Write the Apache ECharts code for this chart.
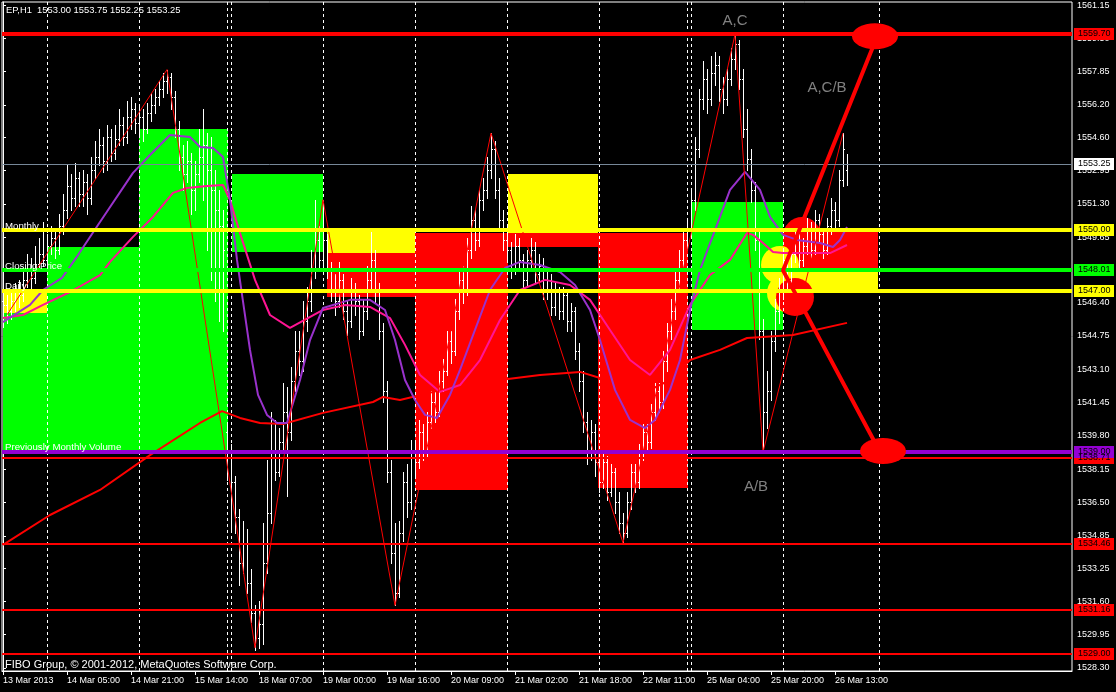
<!DOCTYPE html>
<html><head><meta charset="utf-8">
<script src="https://cdn.jsdelivr.net/npm/echarts@6/dist/echarts.min.js"></script>
<style>html,body{margin:0;padding:0;background:#000;}#c{width:1116px;height:692px;}</style>
</head><body><div id="c"></div>
<script>
// ---------- DATA ----------
const symbolTitle = 'EP,H1  1553.00 1553.75 1552.25 1553.25';
const copyright = 'FIBO Group, \u00A9 2001-2012, MetaQuotes Software Corp.';
const timeLabels = ['13 Mar 2013','14 Mar 05:00','14 Mar 21:00','15 Mar 14:00','18 Mar 07:00','19 Mar 00:00','19 Mar 16:00','20 Mar 09:00','21 Mar 02:00','21 Mar 18:00','22 Mar 11:00','25 Mar 04:00','25 Mar 20:00','26 Mar 13:00'];
const timeLabelBars = [0,16,32,48,64,80,96,112,128,144,160,176,192,208];
const priceTicks = [1528.30,1529.95,1531.60,1533.25,1534.85,1536.50,1538.15,1539.80,1541.45,1543.10,1544.75,1546.40,1548.00,1549.65,1551.30,1552.95,1554.60,1556.20,1557.85,1559.50,1561.15];

const opens = [
1546.5,1546.3,1546.0,1546.5,1547.0,1546.8,1547.5,1548.0,1547.6,1548.3,1548.8,
1548.5,1549.2,1549.6,1549.0,1550.2,1551.0,1552.2,1551.6,1552.6,1551.8,1552.4,1551.6,1553.0,1553.6,1554.2,1553.4,1554.6,1553.8,1554.5,1555.2,1554.6,1555.6,1556.0,
1555.3,1555.6,1555.0,1555.8,1556.2,1556.6,1557.0,1557.4,1557.6,1556.6,1555.0,1553.6,1552.8,1553.4,1552.0,1552.8,1553.6,1554.2,1553.0,1552.0,1551.0,1550.2,
1540.0,1539.0,1537.5,1535.8,1533.5,1534.5,1532.5,1531.0,1529.8,1530.5,1533.5,1536.0,1539.0,1538.0,1539.5,1541.0,1540.0,1542.5,1544.0,1543.5,1545.5,1546.5,1548.0,1549.5,
1548.5,1549.5,1548.0,1547.0,1546.5,1547.5,1546.0,1545.5,1547.0,1546.5,1545.0,1546.0,1547.5,1548.5,1547.0,1545.0,1542.0,1538.0,1534.0,1532.0,1535.0,1537.5,1536.5,
1539.0,1538.5,1540.0,1539.0,1540.5,1541.5,1541.0,1542.5,1543.0,1544.5,1544.0,1546.0,1547.5,1547.0,1549.0,1550.5,1549.5,1551.5,1552.0,1553.0,1554.0,1552.0,1550.5,
1549.5,1549.0,1548.0,1549.2,1548.5,1547.5,1548.5,1549.0,1547.8,1548.2,1547.0,1547.5,1546.2,1547.0,1546.0,1546.8,1545.5,1546.0,1544.0,1542.5,1540.5,1539.0,1540.0,
1538.5,1537.5,1538.5,1537.0,1538.0,1536.5,1535.5,1535.0,1536.5,1538.0,1537.5,1539.0,1540.0,1539.5,1541.0,1542.0,1541.5,1543.5,1545.0,1546.0,1547.5,1548.5,
1549.5,
1550.0,1551.5,1554.0,1556.5,1557.5,1556.5,1557.8,1558.2,1557.0,1556.5,1557.5,1558.5,1559.2,1557.5,1555.0,1553.5,1552.0,1549.5,1545.0,1541.0,1542.0,1544.5,1546.0,
1547.0,1548.5,1547.5,1548.8,1549.5,1548.5,1549.2,1550.0,1549.0,1550.5,1549.8,1549.0,1550.2,1551.0,1550.5,1552.5,1553.0];
const highs = [
1547.2,1546.8,1547.0,1547.4,1547.5,1548.0,1548.8,1548.6,1549.2,1549.6,1550.4,
1549.8,1550.2,1550.0,1550.8,1551.8,1553.2,1552.8,1553.3,1552.9,1553.0,1552.8,1553.6,1554.4,1555.0,1554.6,1555.2,1555.0,1555.2,1556.0,1555.6,1556.4,1556.6,1556.3,
1556.2,1556.0,1556.3,1556.8,1557.0,1557.4,1557.8,1557.95,1557.8,1556.9,1555.4,1554.2,1554.4,1553.8,1553.4,1555.0,1556.0,1554.8,1554.6,1553.0,1552.0,1551.0,
1540.4,1539.4,1537.8,1536.2,1535.6,1535.2,1533.2,1531.4,1531.6,1535.5,1538.6,1541.0,1540.6,1540.2,1542.4,1542.2,1543.2,1545.0,1545.0,1546.5,1547.2,1549.0,1551.5,1550.2,
1551.5,1549.8,1548.4,1547.8,1548.4,1547.8,1546.5,1547.6,1547.4,1546.8,1546.6,1548.2,1550.0,1549.0,1547.4,1545.4,1542.5,1538.6,1535.5,1535.6,1538.0,1538.4,1539.6,
1539.6,1540.6,1540.4,1541.0,1542.0,1542.0,1543.0,1543.6,1545.0,1545.0,1546.6,1548.0,1548.2,1549.6,1551.2,1551.0,1552.0,1552.6,1553.6,1554.8,1554.4,1552.6,1551.0,
1550.2,1549.4,1549.8,1549.6,1548.8,1549.0,1549.6,1549.4,1548.8,1548.6,1548.0,1547.8,1547.4,1547.2,1547.2,1547.0,1546.4,1546.2,1544.4,1543.0,1541.0,1540.6,1540.4,
1539.0,1539.0,1538.8,1538.4,1538.2,1537.0,1536.0,1537.0,1538.4,1538.4,1539.4,1540.4,1540.4,1541.4,1542.4,1542.4,1544.0,1545.4,1546.6,1548.0,1549.0,1550.0,
1550.6,
1552.0,1554.6,1557.0,1558.4,1558.0,1558.6,1558.8,1558.6,1557.6,1558.0,1559.0,1559.7,1559.4,1558.0,1556.0,1554.0,1552.4,1550.0,1545.6,1543.0,1545.0,1546.6,1547.6,
1549.0,1548.8,1549.2,1550.0,1549.8,1549.6,1550.6,1550.4,1551.0,1550.8,1550.0,1550.6,1551.6,1551.4,1553.0,1554.8,1553.75];
const lows = [
1545.2,1545.4,1545.6,1546.0,1546.2,1546.5,1547.2,1547.0,1547.4,1548.0,1548.2,
1548.0,1548.8,1548.6,1548.8,1549.8,1550.6,1551.0,1551.2,1551.2,1551.2,1550.8,1551.3,1552.6,1553.2,1552.9,1553.0,1553.4,1553.5,1554.2,1554.2,1554.3,1555.0,1554.8,
1554.6,1554.4,1554.8,1555.4,1555.8,1556.2,1556.6,1556.8,1556.0,1554.6,1553.0,1552.0,1552.4,1550.8,1551.0,1552.4,1551.5,1549.0,1547.5,1546.5,1545.5,1545.0,
1537.6,1535.2,1535.0,1532.4,1533.0,1532.0,1530.6,1529.2,1529.3,1529.5,1533.0,1535.5,1537.6,1537.8,1539.0,1536.8,1539.6,1542.0,1542.8,1543.0,1545.0,1546.0,1547.6,1548.0,
1548.2,1547.6,1546.5,1545.8,1546.2,1545.6,1544.8,1545.2,1545.8,1544.6,1544.8,1545.6,1547.0,1546.4,1544.6,1541.5,1537.5,1533.5,1531.4,1531.8,1534.6,1535.8,1536.2,
1537.8,1538.2,1538.6,1538.8,1540.2,1540.5,1540.8,1542.0,1542.8,1543.4,1543.8,1545.6,1546.4,1546.8,1548.6,1549.0,1549.2,1551.0,1551.6,1552.6,1551.6,1550.0,1549.0,
1548.4,1547.6,1547.8,1548.0,1547.0,1547.2,1548.0,1547.4,1547.4,1546.6,1546.6,1545.8,1545.8,1545.6,1545.6,1545.0,1545.0,1543.6,1542.0,1540.0,1538.4,1538.6,1537.8,
1537.0,1537.2,1536.6,1536.8,1536.0,1535.0,1534.5,1534.8,1536.2,1537.0,1537.2,1538.6,1539.0,1539.2,1540.6,1541.0,1541.2,1543.0,1544.6,1545.6,1547.0,1548.0,
1549.0,
1549.6,1551.0,1553.6,1556.0,1555.8,1556.2,1557.2,1556.4,1555.8,1556.2,1557.2,1558.0,1557.0,1554.6,1553.0,1551.4,1549.0,1544.6,1539.0,1540.2,1541.6,1544.0,1545.4,
1546.6,1547.0,1547.2,1548.4,1548.0,1548.2,1548.8,1548.6,1548.8,1549.4,1548.6,1548.8,1549.8,1550.0,1550.2,1552.2,1552.25];
const closes = [
1546.3,1546.0,1546.5,1547.0,1546.8,1547.5,1548.0,1547.6,1548.3,1548.8,1548.5,
1549.2,1549.6,1549.0,1550.2,1551.0,1552.2,1551.6,1552.6,1551.8,1552.4,1551.6,1553.0,1553.6,1554.2,1553.4,1554.6,1553.8,1554.5,1555.2,1554.6,1555.6,1556.0,1555.3,
1555.6,1555.0,1555.8,1556.2,1556.6,1557.0,1557.4,1557.6,1556.6,1555.0,1553.6,1552.8,1553.4,1552.0,1552.8,1553.6,1554.2,1553.0,1552.0,1551.0,1550.2,1549.0,
1539.0,1537.5,1535.8,1533.5,1534.5,1532.5,1531.0,1529.8,1530.5,1533.5,1536.0,1539.0,1538.0,1539.5,1541.0,1540.0,1542.5,1544.0,1543.5,1545.5,1546.5,1548.0,1549.5,1548.5,
1549.5,1548.0,1547.0,1546.5,1547.5,1546.0,1545.5,1547.0,1546.5,1545.0,1546.0,1547.5,1548.5,1547.0,1545.0,1542.0,1538.0,1534.0,1532.0,1535.0,1537.5,1536.5,1539.0,
1538.5,1540.0,1539.0,1540.5,1541.5,1541.0,1542.5,1543.0,1544.5,1544.0,1546.0,1547.5,1547.0,1549.0,1550.5,1549.5,1551.5,1552.0,1553.0,1554.0,1552.0,1550.5,1549.5,
1549.0,1548.0,1549.2,1548.5,1547.5,1548.5,1549.0,1547.8,1548.2,1547.0,1547.5,1546.2,1547.0,1546.0,1546.8,1545.5,1546.0,1544.0,1542.5,1540.5,1539.0,1540.0,1538.5,
1537.5,1538.5,1537.0,1538.0,1536.5,1535.5,1535.0,1536.5,1538.0,1537.5,1539.0,1540.0,1539.5,1541.0,1542.0,1541.5,1543.5,1545.0,1546.0,1547.5,1548.5,1549.5,
1550.0,
1551.5,1554.0,1556.5,1557.5,1556.5,1557.8,1558.2,1557.0,1556.5,1557.5,1558.5,1559.2,1557.5,1555.0,1553.5,1552.0,1549.5,1545.0,1541.0,1542.0,1544.5,1546.0,1547.0,
1548.5,1547.5,1548.8,1549.5,1548.5,1549.2,1550.0,1549.0,1550.5,1549.8,1549.0,1550.2,1551.0,1550.5,1552.5,1554.0,1553.25];

// moving averages: [bar, price]
const maFast = [[0,1545.44],[6.75,1546.29],[10,1547.03],[14.75,1547.63],[18.75,1548.76],[24.25,1550.40],[32.5,1552.83],[36.75,1553.72],[41.75,1554.71],[46.75,1554.61],[49.25,1554.12],[52.5,1554.07],[55,1553.62],[56.75,1551.49],[58.5,1548.52],[61.75,1544.06],[63.75,1541.83],[66,1540.84],[68.5,1540.44],[71,1540.44],[74.25,1542.57],[76.75,1544.55],[80,1546.14],[86.75,1546.54],[91.75,1546.54],[95.5,1546.04],[98,1544.55],[100.5,1542.57],[103,1541.58],[105.5,1540.84],[108.5,1540.69],[111.75,1541.83],[114.25,1543.07],[118,1545.05],[121.75,1547.03],[125.5,1548.12],[129.25,1548.42],[134.25,1548.27],[139.25,1547.92],[143,1547.28],[146.75,1546.04],[149.25,1544.55],[153,1542.08],[156.75,1540.59],[160.5,1540.19],[163,1540.59],[166.75,1542.08],[169.25,1543.56],[171.75,1546.04],[174.25,1548.02],[178,1550.0],[181.75,1551.99],[185.5,1552.88],[189.25,1551.99],[191.75,1550.65],[195,1549.76],[198.5,1549.51],[204.25,1549.36],[207.5,1549.16],[209.25,1549.51],[211,1550.15]];
const maMid = [[0,1545.64],[5,1545.79],[10,1546.29],[16.75,1546.93],[24.25,1547.77],[26.75,1548.42],[32.5,1549.66],[37.5,1550.65],[42.5,1551.84],[46,1552.08],[51,1552.18],[55,1552.23],[56.75,1551.49],[59.25,1549.85],[63,1547.53],[66.75,1545.79],[71.75,1545.15],[80,1546.04],[85.5,1546.29],[91.75,1546.19],[96.75,1545.64],[100.5,1544.31],[104.25,1542.82],[109.25,1541.98],[114.25,1542.32],[119.25,1543.56],[124.25,1545.54],[129.25,1547.03],[135.5,1547.53],[141.75,1547.28],[146.75,1546.54],[151.75,1545.05],[156.75,1543.56],[161.75,1542.82],[166.75,1544.06],[171.75,1546.29],[176.75,1547.77],[181.75,1548.52],[186,1549.85],[187.5,1549.76],[190,1549.36],[192.5,1548.91],[195,1548.86],[201,1548.86],[206.75,1548.86],[211,1549.26]];
const maSlow = [[0,1534.40],[11.75,1535.88],[24.25,1537.12],[36.75,1538.85],[49.25,1540.44],[54.75,1541.03],[59.25,1540.69],[64.25,1540.44],[70,1540.39],[80,1540.94],[92.5,1541.48],[95,1541.73],[99.25,1541.58],[111.75,1542.18],[124.25,1542.57],[134.25,1542.82],[144.25,1542.97],[149.25,1542.67],[156.75,1542.18],[161.75,1542.08],[166.75,1542.57],[171.75,1543.56],[179.25,1544.06],[186,1544.65],[197.5,1544.80],[211,1545.40]];
const zigzag = [[1,1545.8],[41,1557.95],[63,1529.3],[80,1551.5],[98,1531.4],[122,1554.8],[155,1534.5],[183,1559.7],[190,1539.0],[210,1554.8]];

// daily zones: [fromBar, toBar, topPrice, bottomPrice]
const zoneBounds = [[0,11,1545.9,1539.1],[0,11,1547.0,1545.9],[11,34,1549.15,1539.1],[34,56.25,1555.0,1539.1],[57.25,80,1552.8,1548.9],[81,103,1550.05,1548.86],[81,103,1548.86,1546.7],[103,126.25,1549.85,1537.1],[126.25,148.75,1552.8,1549.85],[126.25,148.75,1549.85,1549.15],[148.75,171.25,1549.85,1537.2],[172.25,195,1551.4,1545.05],[195,218.75,1550.0,1548.0],[195,218.75,1548.0,1547.0]];
const zoneKinds = ['up','neutral','up','up','up','neutral','down','down','neutral','down','down','up','down','neutral'];

const separatorBars = [11,34,56,57,80,103,126,149,171,172,195,219];

// horizontal levels
const levelPrices = [1559.70,1553.25,1550.00,1548.01,1547.00,1538.71,1539.00,1534.46,1531.16,1529.00];
const levelKinds  = ['red','bid','yellow','green','yellow','redThin','purple','redThin','redThin','redThin'];
const levelTexts = [['Monthly',1550.2],['Closing Price',1548.22],['Daily',1547.23],['Previously Monthly Volume',1539.25]];

// projection objects
const projection = [[218.75,1559.7],[195,1548.0],[219.25,1539.0]];
const bigEllipses = [[218,1559.6],[220,1539.05]];
const smallCircles = [[194.25,1548.27],[195.75,1546.88],[199.75,1549.7],[198,1546.68]];
const smallCircleKinds = ['yellow','yellow','red','red'];
const waveLabels = [['A,C',183,1560.36],['A,C/B',206,1557.04],['A/B',188.25,1537.27]];

// ---------- STYLE ----------
const FONT = '"Liberation Sans", Arial, sans-serif';
const FS = 9;
const zoneColors = {up:'#00FF00', down:'#FF0000', neutral:'#FFFF00'};
const levelStyles = {
  red:{color:'#FF0000', w:4}, bid:{color:'#778899', w:1, box:'#FFFFFF'}, yellow:{color:'#FFFF00', w:4},
  green:{color:'#00FF00', w:4}, purple:{color:'#9400D3', w:4}, redThin:{color:'#FF0000', w:2}
};
const circleColors = {yellow:'#FFFF00', red:'#FF0000'};

const chart = echarts.init(document.getElementById('c'), null, {renderer:'canvas'});

const barData = opens.map((o,i)=>[i,o,highs[i],lows[i],closes[i]]);

function crisp(v){return Math.round(v)+0.5;}

const option = {
  backgroundColor:'#000000',
  animation:false,
  grid:{left:2,right:44,top:2,bottom:21,show:true,borderColor:'#FFFFFF',borderWidth:1},
  xAxis:{type:'value',min:-0.25,max:267.25,
    axisLine:{show:true,lineStyle:{color:'#FFFFFF',width:1}},
    splitLine:{show:false},
    axisTick:{show:true,customValues:timeLabelBars,length:4,inside:false,lineStyle:{color:'#FFFFFF'}},
    axisLabel:{customValues:timeLabelBars,formatter:(v)=>timeLabels[timeLabelBars.indexOf(Math.round(v))]||'',
      color:'#FFFFFF',fontFamily:FONT,fontSize:FS,align:'left',margin:5,showMinLabel:true,showMaxLabel:true}
  },
  yAxis:{type:'value',position:'right',min:1528.15,max:1561.30,scale:true,
    axisLine:{show:true,lineStyle:{color:'#FFFFFF',width:1}},
    splitLine:{show:false},
    axisTick:{show:true,customValues:priceTicks,length:3,lineStyle:{color:'#FFFFFF'}},
    axisLabel:{customValues:priceTicks,formatter:(v)=>v.toFixed(2),color:'#FFFFFF',fontFamily:FONT,fontSize:FS,margin:5}
  },
  graphic:[
    {type:'text',left:6,top:6,z:20,style:{text:symbolTitle,fill:'#FFFFFF',font:'9.4px '+FONT}},
    {type:'text',left:5,top:659,z:20,style:{text:copyright,fill:'#FFFFFF',font:'11px '+FONT}}
  ],
  series:[
    // zones
    {type:'custom',z:1,clip:false,data:zoneBounds.map((b,i)=>[b[0],b[1],b[2],b[3],i]),encode:{x:[0,1],y:[2,3]},
      renderItem(params,api){
        const a=api.coord([api.value(0),api.value(2)]), b=api.coord([api.value(1),api.value(3)]);
        const k=zoneKinds[api.value(4)];
        return {type:'rect',shape:{x:Math.round(a[0]),y:Math.round(a[1]),width:Math.round(b[0])-Math.round(a[0]),height:Math.round(b[1])-Math.round(a[1])},style:{fill:zoneColors[k]}};
      }},
    // small circles
    {type:'custom',z:2,clip:false,data:smallCircles.map((c,i)=>[c[0],c[1],i]),encode:{x:0,y:1},
      renderItem(params,api){
        const p=api.coord([api.value(0),api.value(1)]);
        const k=smallCircleKinds[api.value(2)];
        return {type:'circle',shape:{cx:p[0],cy:p[1],r:19},style:{fill:circleColors[k]}};
      }},
    // OHLC bars
    {type:'custom',z:3,clip:false,data:barData,encode:{x:0,y:[1,2,3,4]},
      renderItem(params,api){
        const v=api.value(0);
        const h=api.coord([v,api.value(2)]), l=api.coord([v,api.value(3)]);
        const o=api.coord([v,api.value(1)]), c=api.coord([v,api.value(4)]);
        const x=crisp(h[0]);
        const st={stroke:'#FFFFFF',lineWidth:1};
        return {type:'group',children:[
          {type:'line',shape:{x1:x,y1:Math.round(h[1]),x2:x,y2:Math.round(l[1])+1},style:st},
          {type:'line',shape:{x1:x-1.5,y1:crisp(o[1]),x2:x,y2:crisp(o[1])},style:st},
          {type:'line',shape:{x1:x,y1:crisp(c[1]),x2:x+1.5,y2:crisp(c[1])},style:st}
        ]};
      }},
    // day separators
    {type:'custom',z:4,clip:false,data:separatorBars.map(b=>[b,1545]),encode:{x:0,y:1},
      renderItem(params,api){
        const cs=params.coordSys;
        const x=crisp(api.coord([api.value(0),1545])[0]);
        return {type:'line',shape:{x1:x,y1:cs.y,x2:x,y2:cs.y+cs.height},style:{stroke:'#FFFFFF',lineWidth:1,lineDash:[3,3],blend:'difference'}};
      }},
    // moving averages
    {type:'line',z:5,data:maSlow,showSymbol:false,symbol:'none',lineStyle:{color:'#FF0000',width:2},silent:true},
    {type:'line',z:5,data:maMid,showSymbol:false,symbol:'none',lineStyle:{color:'#FF1493',width:2},silent:true},
    {type:'line',z:5,data:maFast,showSymbol:false,symbol:'none',lineStyle:{color:'#9932CC',width:2},silent:true},
    {type:'line',z:5,data:zigzag,showSymbol:false,symbol:'none',lineStyle:{color:'#FF0000',width:1},silent:true},
    // level lines + price boxes
    {type:'custom',z:6,clip:false,data:levelPrices.map((p,i)=>[0,p,i]),encode:{x:0,y:1},
      renderItem(params,api){
        const cs=params.coordSys;
        const p=api.value(1), st=levelStyles[levelKinds[api.value(2)]];
        const y=api.coord([0,p])[1];
        const yy=st.w%2?crisp(y):Math.round(y);
        const right=cs.x+cs.width;
        return {type:'group',children:[
          {type:'line',shape:{x1:cs.x,y1:yy,x2:right,y2:yy},style:{stroke:st.color,lineWidth:st.w}},
          {type:'rect',z2:10,shape:{x:right+2,y:Math.round(y)-6,width:40,height:12},style:{fill:st.box||st.color}},
          {type:'text',z2:11,x:right+6,y:Math.round(y),style:{text:p.toFixed(2),fill:'#000000',font:FS+'px '+FONT,verticalAlign:'middle',align:'left'}}
        ]};
      }},
    // projection lines
    {type:'line',z:7,data:projection,showSymbol:false,symbol:'none',lineStyle:{color:'#FF0000',width:4},silent:true},
    // big ellipses
    {type:'custom',z:7,clip:false,data:bigEllipses,encode:{x:0,y:1},
      renderItem(params,api){
        const p=api.coord([api.value(0),api.value(1)]);
        return {type:'circle',x:p[0],y:p[1],scaleY:13/23,shape:{cx:0,cy:0,r:23},style:{fill:'#FF0000'}};
      }},
    // text labels
    {type:'custom',z:8,clip:false,data:levelTexts.map((t,i)=>[0.25,t[1],i]),encode:{x:0,y:1},
      renderItem(params,api){
        const p=api.coord([api.value(0),api.value(1)]);
        return {type:'text',x:p[0]+1,y:p[1],style:{text:levelTexts[api.value(2)][0],fill:'#FFFFFF',font:'9.7px '+FONT,verticalAlign:'middle',align:'left'}};
      }},
    {type:'custom',z:8,clip:false,data:waveLabels.map((t,i)=>[t[1],t[2],i]),encode:{x:0,y:1},
      renderItem(params,api){
        const p=api.coord([api.value(0),api.value(1)]);
        return {type:'text',x:p[0],y:p[1],style:{text:waveLabels[api.value(2)][0],fill:'#808080',font:'15px '+FONT,verticalAlign:'middle',align:'center'}};
      }}
  ]
};
chart.setOption(option);
</script></body></html>
